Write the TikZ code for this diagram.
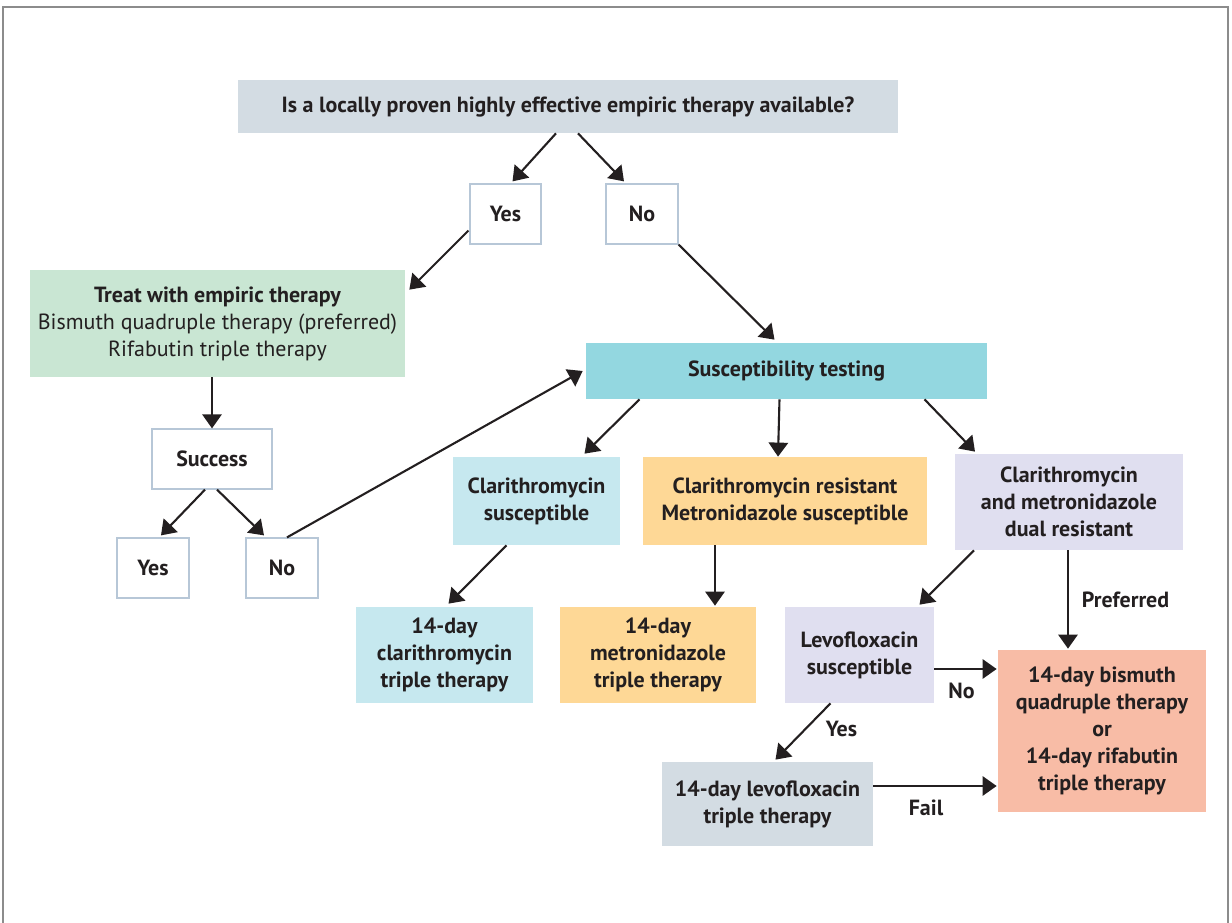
\documentclass[tikz,border=0pt]{standalone}
\usepackage{fontspec}
\setmainfont{PT Sans}
\usetikzlibrary{arrows.meta}

\definecolor{ink}{HTML}{231F20}
\definecolor{qgray}{HTML}{D3DCE3}
\definecolor{tgreen}{HTML}{C9E6D3}
\definecolor{steal}{HTML}{93D7E0}
\definecolor{lblue}{HTML}{C6E8EF}
\definecolor{lorange}{HTML}{FED896}
\definecolor{lav}{HTML}{E0DFF0}
\definecolor{salmon}{HTML}{F8BCA6}
\definecolor{rimblue}{HTML}{B7C7D7}
\definecolor{framegray}{HTML}{8C8C8C}

\tikzstyle{box}=[inner sep=0pt, align=center, text=ink, font=\fontsize{12.5}{15.4}\selectfont\bfseries]
\tikzstyle{answer}=[box, draw=rimblue, line width=0.7pt, fill=white]
\tikzstyle{edge}=[draw=ink, line width=1.2pt, -{Triangle[length=8pt,width=11pt]}]
\tikzstyle{lbl}=[text=ink, font=\fontsize{12.5}{15.4}\selectfont\bfseries]
\newcommand{\px}{0.02cm}

\begin{document}
\begin{tikzpicture}[x=\px, y=-\px]
    \useasboundingbox (0,0) rectangle (1232,923);
    % frame
    \draw[framegray, line width=0.6pt] (3,923) -- (3,7) (1228,7) -- (1228,923);
    \draw[framegray, line width=1.5pt] (2.5,7) -- (1228.5,7);

    % question and first answers
    \node[box, fill=qgray, minimum width=660*\px, minimum height=53*\px] (q) at (568,106.5)
        {Is a locally proven highly effective empiric therapy available?};
    \node[answer, minimum width=71*\px, minimum height=60*\px] (yes1) at (505.5,214) {Yes};
    \node[answer, minimum width=72*\px, minimum height=60*\px] (no1) at (642,214) {No};

    % empiric branch
    \node[box, fill=tgreen, minimum width=375*\px, minimum height=107*\px] (treat) at (217.5,323.5)
        {Treat with empiric therapy\\ \mdseries Bismuth quadruple therapy (preferred)\\ \mdseries Rifabutin triple therapy};
    \node[answer, minimum width=120*\px, minimum height=60*\px] (success) at (212,459) {Success};
    \node[answer, minimum width=72*\px, minimum height=60*\px] (yes2) at (153,568) {Yes};
    \node[answer, minimum width=72*\px, minimum height=60*\px] (no2) at (282,568) {No};

    % susceptibility branch
    \node[box, fill=steal, minimum width=401*\px, minimum height=56*\px] (sus) at (786.5,371) {Susceptibility testing};
    \node[box, fill=lblue, minimum width=167*\px, minimum height=88*\px] (csus) at (536.5,501)
        {Clarithromycin\\susceptible};
    \node[box, fill=lorange, minimum width=284*\px, minimum height=88*\px] (cres) at (785,501)
        {Clarithromycin resistant\\Metronidazole susceptible};
    \node[box, fill=lav, minimum width=228*\px, minimum height=96*\px] (dual) at (1069,502)
        {Clarithromycin\\and metronidazole\\dual resistant};
    \node[box, fill=lblue, minimum width=177*\px, minimum height=96*\px] (ctrip) at (444.5,655)
        {14-day\\clarithromycin\\triple therapy};
    \node[box, fill=lorange, minimum width=196*\px, minimum height=96*\px] (mtrip) at (658,655)
        {14-day\\metronidazole\\triple therapy};
    \node[box, fill=lav, minimum width=149*\px, minimum height=96*\px] (levo) at (859.5,655)
        {Levofloxacin\\susceptible};
    \node[box, fill=salmon, minimum width=208*\px, minimum height=162*\px] (bis) at (1102,731)
        {14-day bismuth\\quadruple therapy\\or\\14-day rifabutin\\triple therapy};
    \node[box, fill=qgray, minimum width=211*\px, minimum height=84*\px] (ltrip) at (767.5,804)
        {14-day levofloxacin\\triple therapy};

    % connectors
    \path[edge] ([shift={(-12,0)}]q.south) -- ([shift={(7,-2)}]yes1.north);
    \path[edge] ([shift={(10,0)}]q.south) -- ([shift={(-18,-2)}]no1.north);
    \path[edge] ([shift={(-1,-14)}]yes1.south west) -- ([shift={(4,20)}]treat.north east);
    \path[edge] (no1.south east) -- ([shift={(-12,-3)}]sus.north);
    \path[edge] (treat.south -| success.north) -- (success.north);
    \path[edge] ([shift={(-7,0)}]success.south) -- ([shift={(8,-2)}]yes2.north);
    \path[edge] ([shift={(5,0)}]success.south) -- ([shift={(-18,-2)}]no2.north);
    \path[edge] ([shift={(5,0)}]no2.north) -- ([shift={(-3,0)}]sus.west);
    \path[edge] ([shift={(-147,0)}]sus.south) -- ([shift={(48,-3)}]csus.north);
    \path[edge] ([shift={(-7,0)}]sus.south) -- ([shift={(-7,0)}]cres.north);
    \path[edge] ([shift={(138,0)}]sus.south) -- ([shift={(-94,-2)}]dual.north);
    \path[edge] ([shift={(-30,0)}]csus.south) -- ([shift={(4,-3)}]ctrip.north);
    \path[edge] ([shift={(-70,0)}]cres.south) -- ([shift={(57,-1)}]mtrip.north);
    \path[edge] ([shift={(-95,0)}]dual.south) -- ([shift={(60,-2)}]levo.north);
    \path[edge] ([shift={(-1,0)}]dual.south) -- node[lbl, right=7*\px] {Preferred} ([shift={(-34,-1)}]bis.north);
    \path[edge] ([shift={(0,14)}]levo.east) -- node[lbl, below=7*\px, xshift=-4*\px] {No} ([shift={(-1,-62)}]bis.west);
    \path[edge] ([shift={(-29,0)}]levo.south) -- node[lbl, right=16*\px, yshift=3*\px] {Yes} ([shift={(8,-2)}]ltrip.north);
    \path[edge] ([shift={(0,-18)}]ltrip.east) -- node[lbl, below=7*\px, xshift=-9*\px] {Fail} ([shift={(-1,55)}]bis.west);
\end{tikzpicture}
\end{document}
